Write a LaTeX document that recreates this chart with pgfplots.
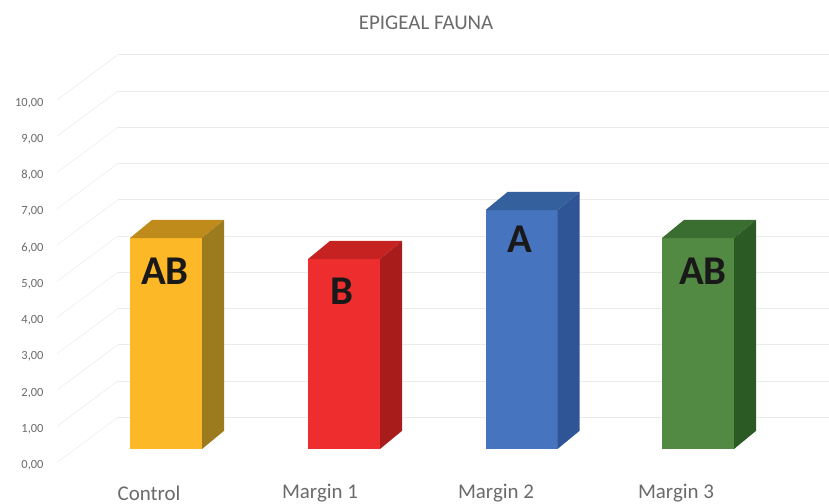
\documentclass[border=0pt]{standalone}
\usepackage{pgfplots}
\usepackage{fontspec}
\setmainfont{Carlito}
\pgfplotsset{compat=1.18}
\definecolor{gridc}{HTML}{EBEBEB}
\definecolor{gridl}{HTML}{F0F0F0}
\definecolor{txt}{HTML}{6A6A6A}
\definecolor{c1}{HTML}{FDB827}\definecolor{c1t}{HTML}{BF8C1C}\definecolor{c1s}{HTML}{9C7A1E}
\definecolor{c2}{HTML}{EE2E2E}\definecolor{c2t}{HTML}{C72222}\definecolor{c2s}{HTML}{A81C1C}
\definecolor{c3}{HTML}{4674BE}\definecolor{c3t}{HTML}{35609E}\definecolor{c3s}{HTML}{2F5596}
\definecolor{c4}{HTML}{538A43}\definecolor{c4t}{HTML}{3A6E30}\definecolor{c4s}{HTML}{2B5A25}
\begin{document}
\begin{tikzpicture}[x=1bp,y=1bp]
\useasboundingbox (0,0) rectangle (829,504);
\begin{axis}[
  at={(0,0)},anchor=south west,
  scale only axis,width=829bp,height=504bp,
  xmin=0,xmax=829,ymin=-1.145,ymax=12.759,
  clip=false,
  axis line style={draw=none},
  tick style={draw=none},
  xtick={149,320,496,676},
  xticklabels={Control,Margin 1,Margin 2,Margin 3},
  ytick={0,1,...,10},
  /pgf/number format/fixed,
  /pgf/number format/fixed zerofill,
  /pgf/number format/precision=2,
  /pgf/number format/use comma,
  /pgf/number format/assume math mode=true,
  yticklabel style={anchor=east,xshift=47bp,yshift=-3bp,font=\fontsize{12.5}{13}\selectfont,text=txt},
  xticklabel style={anchor=center,yshift=11bp,font=\fontsize{21}{22}\selectfont,text=txt},
  title style={at={(0.514,0.942)},anchor=center,font=\fontsize{21}{22}\selectfont,text=txt},
  title={EPIGEAL FAUNA},
]
% skewed grid: front edge, side wall, back wall
\addplot[gridl,line width=0.8pt] coordinates {(57,0)(118,1.25)};
\addplot[gridl,line width=0.8pt] coordinates {(57,1)(118,2.25)};
\addplot[gridl,line width=0.8pt] coordinates {(57,2)(118,3.25)};
\addplot[gridl,line width=0.8pt] coordinates {(57,3)(118,4.25)};
\addplot[gridl,line width=0.8pt] coordinates {(57,4)(118,5.25)};
\addplot[gridl,line width=0.8pt] coordinates {(57,5)(118,6.25)};
\addplot[gridl,line width=0.8pt] coordinates {(57,6)(118,7.25)};
\addplot[gridl,line width=0.8pt] coordinates {(57,7)(118,8.25)};
\addplot[gridl,line width=0.8pt] coordinates {(57,8)(118,9.25)};
\addplot[gridl,line width=0.8pt] coordinates {(57,9)(118,10.25)};
\addplot[gridl,line width=0.8pt] coordinates {(57,10)(118,11.25)};
\addplot[gridc,line width=0.8pt] coordinates {(118,1.25)(829,1.25)};
\addplot[gridc,line width=0.8pt] coordinates {(118,2.25)(829,2.25)};
\addplot[gridc,line width=0.8pt] coordinates {(118,3.25)(829,3.25)};
\addplot[gridc,line width=0.8pt] coordinates {(118,4.25)(829,4.25)};
\addplot[gridc,line width=0.8pt] coordinates {(118,5.25)(829,5.25)};
\addplot[gridc,line width=0.8pt] coordinates {(118,6.25)(829,6.25)};
\addplot[gridc,line width=0.8pt] coordinates {(118,7.25)(829,7.25)};
\addplot[gridc,line width=0.8pt] coordinates {(118,8.25)(829,8.25)};
\addplot[gridc,line width=0.8pt] coordinates {(118,9.25)(829,9.25)};
\addplot[gridc,line width=0.8pt] coordinates {(118,10.25)(829,10.25)};
\addplot[gridc,line width=0.8pt] coordinates {(118,11.25)(829,11.25)};
% Control
\addplot[ybar,bar width=72bp,bar shift=0pt,fill=c1,draw=none,yshift=13.5bp] coordinates {(166,5.82)};
\addplot[fill=c1t,draw=none,yshift=13.5bp] coordinates {(130,5.82)(202,5.82)(224,6.32)(152,6.32)(130,5.82)};
\addplot[fill=c1s,draw=none,yshift=13.5bp] coordinates {(202,0)(224,0.5)(224,6.32)(202,5.82)(202,0)};
% Margin 1
\addplot[ybar,bar width=72bp,bar shift=0pt,fill=c2,draw=none,yshift=13.5bp] coordinates {(344,5.24)};
\addplot[fill=c2t,draw=none,yshift=13.5bp] coordinates {(308,5.24)(380,5.24)(402,5.74)(330,5.74)(308,5.24)};
\addplot[fill=c2s,draw=none,yshift=13.5bp] coordinates {(380,0)(402,0.5)(402,5.74)(380,5.24)(380,0)};
% Margin 2
\addplot[ybar,bar width=72bp,bar shift=0pt,fill=c3,draw=none,yshift=13.5bp] coordinates {(521.5,6.59)};
\addplot[fill=c3t,draw=none,yshift=13.5bp] coordinates {(485.5,6.59)(557.5,6.59)(579.5,7.09)(507.5,7.09)(485.5,6.59)};
\addplot[fill=c3s,draw=none,yshift=13.5bp] coordinates {(557.5,0)(579.5,0.5)(579.5,7.09)(557.5,6.59)(557.5,0)};
% Margin 3
\addplot[ybar,bar width=72bp,bar shift=0pt,fill=c4,draw=none,yshift=13.5bp] coordinates {(698,5.82)};
\addplot[fill=c4t,draw=none,yshift=13.5bp] coordinates {(662,5.82)(734,5.82)(756,6.32)(684,6.32)(662,5.82)};
\addplot[fill=c4s,draw=none,yshift=13.5bp] coordinates {(734,0)(756,0.5)(756,6.32)(734,5.82)(734,0)};
% letters
\node[font=\bfseries\fontsize{41}{42}\selectfont,text=black!90] at (axis cs:165,5.277) {AB};
\node[font=\bfseries\fontsize{41}{42}\selectfont,text=black!90] at (axis cs:342,4.724) {B};
\node[font=\bfseries\fontsize{41}{42}\selectfont,text=black!90] at (axis cs:520,6.17) {A};
\node[font=\bfseries\fontsize{41}{42}\selectfont,text=black!90] at (axis cs:703,5.277) {AB};
\end{axis}
\end{tikzpicture}
\end{document}
